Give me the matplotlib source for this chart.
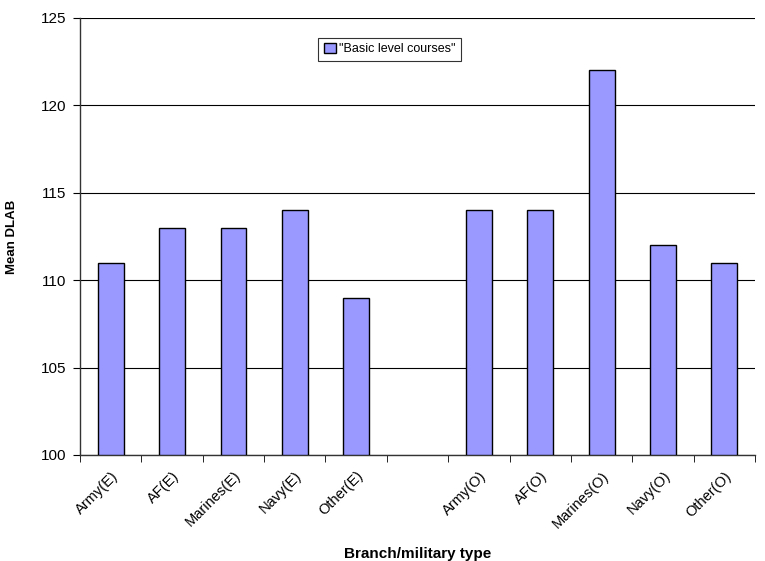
import numpy as np
import matplotlib.pyplot as plt

plt.rcParams['font.family'] = ['Liberation Sans', 'DejaVu Sans']

categories = ['Army(E)', 'AF(E)', 'Marines(E)', 'Navy(E)', 'Other(E)', '',
              'Army(O)', 'AF(O)', 'Marines(O)', 'Navy(O)', 'Other(O)']
mean_dlab = [111, 113, 113, 114, 109, np.nan, 114, 114, 122, 112, 111]
series_name = '"Basic level courses"'

fig = plt.figure(figsize=(7.65, 5.61), dpi=100)
ax = fig.add_axes([0.1046, 0.189, 0.8824, 0.779])

x = np.arange(len(categories))
ax.bar(x, np.array(mean_dlab) - 100, bottom=100, width=0.42, color='#9999FF',
       edgecolor='black', linewidth=1.0, label=series_name, zorder=3)

ax.set_xlim(-0.5, len(categories) - 0.5)
ax.set_ylim(100, 125)
ax.set_yticks(np.arange(100, 126, 5))
ax.yaxis.grid(True, color='black', linewidth=0.8)
ax.set_axisbelow(True)

ax.set_xticks(x)
ax.set_xticklabels(categories, rotation=45, ha='right', rotation_mode='anchor', fontsize=10.5)
ax.tick_params(axis='x', which='major', length=0, pad=10)
ax.set_xticks(np.arange(-0.5, len(categories)), minor=True)
ax.tick_params(axis='x', which='minor', length=5, direction='out', color='black')
ax.tick_params(axis='y', length=5, direction='out', labelsize=11, pad=5)

for s in ['top', 'right']:
    ax.spines[s].set_visible(False)
for s in ['left', 'bottom']:
    ax.spines[s].set_color('#333333')
    ax.spines[s].set_linewidth(1.0)

ax.set_ylabel('Mean DLAB', fontsize=9.5, fontweight='bold', labelpad=16)
ax.set_xlabel('Branch/military type', fontsize=11, fontweight='bold', labelpad=12)

leg = ax.legend(loc='upper left', bbox_to_anchor=(0.353, 0.955), fontsize=9,
                frameon=True, fancybox=False, edgecolor='black',
                handlelength=1.0, handleheight=0.8, handletextpad=0.2,
                borderpad=0.45, borderaxespad=0)
leg.get_frame().set_linewidth(0.8)

fig.savefig('out.png', dpi=100)
